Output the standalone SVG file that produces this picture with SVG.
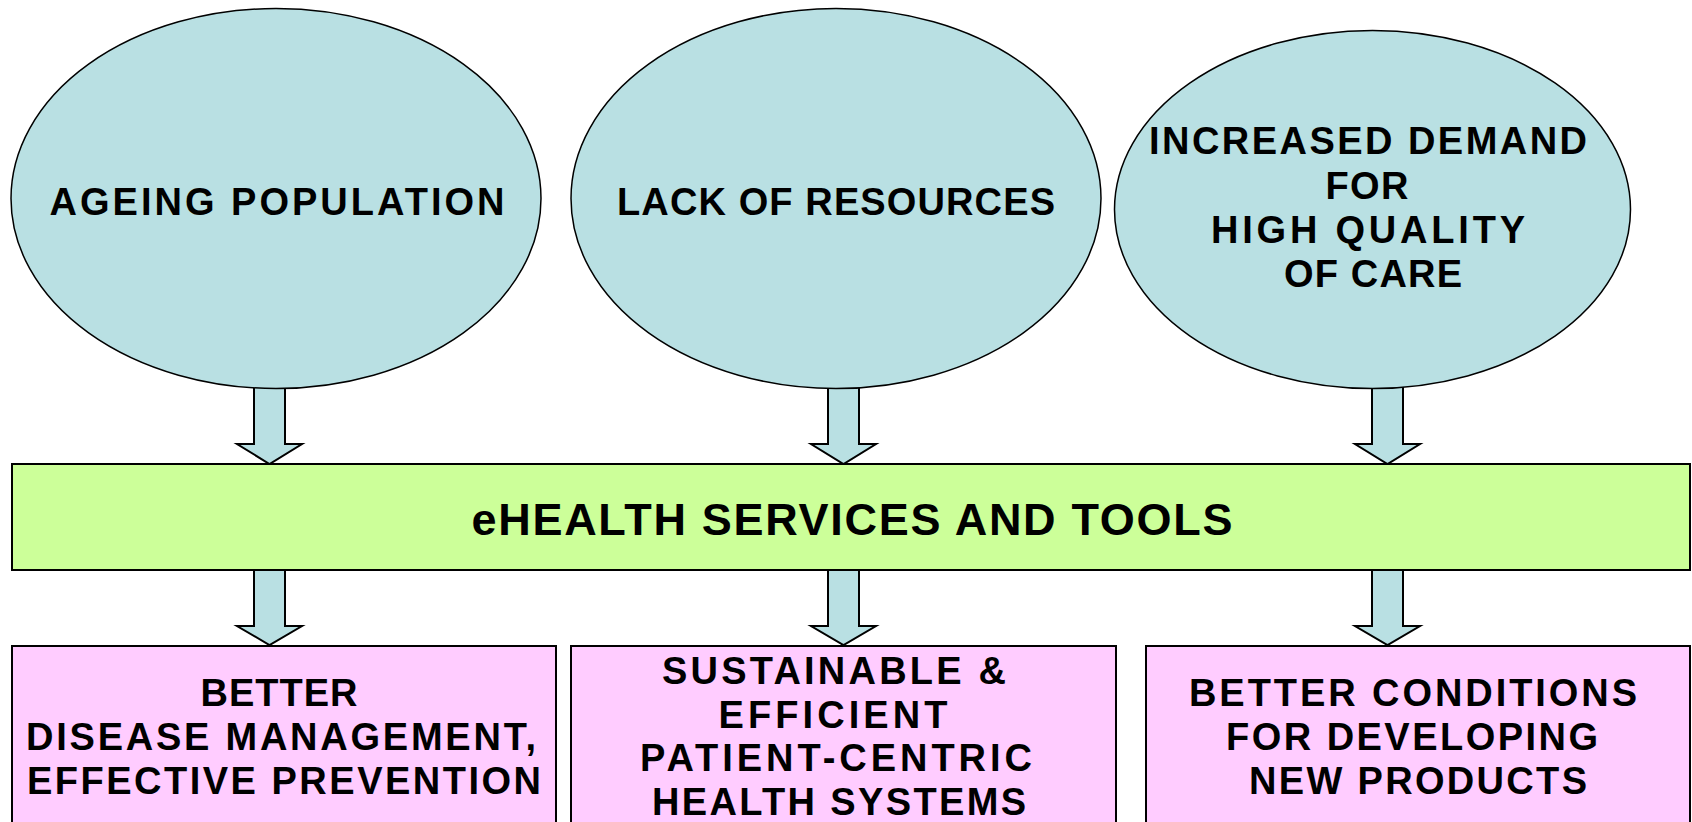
<svg xmlns="http://www.w3.org/2000/svg" width="1692" height="822" viewBox="0 0 1692 822">
<style>
.bg{fill:#ffffff}
.ell{fill:#B9E0E3;stroke:#000;stroke-width:1.5}
.arr{fill:#B9E0E3;stroke:#000;stroke-width:2;stroke-linejoin:miter}
.bar{fill:#CCFF99;stroke:#000;stroke-width:2}
.box{fill:#FFCCFF;stroke:#000;stroke-width:2}
text{font-family:"Liberation Sans",Arial,sans-serif;font-weight:bold;fill:#000;text-anchor:middle}
.t{font-size:38px}
.tb{font-size:45px}
</style>
<rect class="bg" x="0" y="0" width="1692" height="822"/>
<g id="connectors">
<polygon class="arr" points="254,380 285,380 285,444 302,444 269.5,464 237,444 254,444"/>
<polygon class="arr" points="828,380 859,380 859,444 876,444 843.5,464 811,444 828,444"/>
<polygon class="arr" points="1372,380 1403,380 1403,444 1420,444 1387.5,464 1355,444 1372,444"/>
<polygon class="arr" points="254,566 285,566 285,626 302,626 269.5,645 237,626 254,626"/>
<polygon class="arr" points="828,566 859,566 859,626 876,626 843.5,645 811,626 828,626"/>
<polygon class="arr" points="1372,566 1403,566 1403,626 1420,626 1387.5,645 1355,626 1372,626"/>
</g>
<g id="ageing">
<ellipse class="ell" cx="276" cy="198.5" rx="265" ry="190"/>
<text class="t" x="277" y="214.5" textLength="455" lengthAdjust="spacing">AGEING POPULATION</text>
</g>
<g id="lack">
<ellipse class="ell" cx="836" cy="198.5" rx="265" ry="190"/>
<text class="t" x="836" y="214.5" textLength="438" lengthAdjust="spacing">LACK OF RESOURCES</text>
</g>
<g id="demand">
<ellipse class="ell" cx="1372.5" cy="209.5" rx="258" ry="179"/>
<text class="t" x="1368" y="154" textLength="438" lengthAdjust="spacing">INCREASED DEMAND</text>
<text class="t" x="1367" y="198.5" textLength="83" lengthAdjust="spacing">FOR</text>
<text class="t" x="1368" y="243" textLength="314" lengthAdjust="spacing">HIGH QUALITY</text>
<text class="t" x="1373" y="287" textLength="178" lengthAdjust="spacing">OF CARE</text>
</g>
<g id="ehealth">
<rect class="bar" x="12" y="464" width="1678" height="106"/>
<text class="tb" x="852" y="535" textLength="761" lengthAdjust="spacing">eHEALTH SERVICES AND TOOLS</text>
</g>
<g id="better-disease">
<rect class="box" x="12" y="646" width="544" height="190"/>
<text class="t" x="279" y="705.5" textLength="157" lengthAdjust="spacing">BETTER</text>
<text class="t" x="281" y="750" textLength="510" lengthAdjust="spacing">DISEASE MANAGEMENT,</text>
<text class="t" x="284" y="794" textLength="514" lengthAdjust="spacing">EFFECTIVE PREVENTION</text>
</g>
<g id="sustainable">
<rect class="box" x="571" y="646" width="545" height="190"/>
<text class="t" x="834" y="684" textLength="344" lengthAdjust="spacing">SUSTAINABLE &amp;</text>
<text class="t" x="833" y="727.5" textLength="229" lengthAdjust="spacing">EFFICIENT</text>
<text class="t" x="836" y="771" textLength="392" lengthAdjust="spacing">PATIENT-CENTRIC</text>
<text class="t" x="839" y="815" textLength="374" lengthAdjust="spacing">HEALTH SYSTEMS</text>
</g>
<g id="better-conditions">
<rect class="box" x="1146" y="646" width="544" height="190"/>
<text class="t" x="1413" y="705.5" textLength="448" lengthAdjust="spacing">BETTER CONDITIONS</text>
<text class="t" x="1412" y="750" textLength="372" lengthAdjust="spacing">FOR DEVELOPING</text>
<text class="t" x="1418" y="794" textLength="338" lengthAdjust="spacing">NEW PRODUCTS</text>
</g>
</svg>
